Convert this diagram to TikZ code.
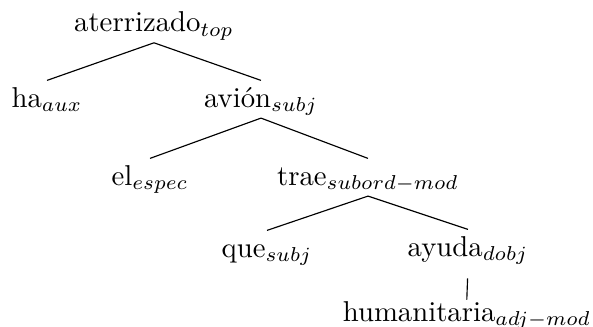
\documentclass[tikz,border=0pt]{standalone}
\usepackage{fontspec}

\begin{document}
\begin{tikzpicture}[
  x=0.348pt, y=-0.348pt,
  word/.style={inner sep=0pt, text height=9.06pt, text depth=3.66pt, anchor=base},
  edge/.style={draw=black, line width=0.4pt}
]
\useasboundingbox (0,0) rectangle (593,326);
\node[word] (aterrizado) at (154,31.7) {aterrizado$_{top}$};
\node[word] (ha) at (47,107) {ha$_{aux}$};
\node[word] (avion) at (261,107) {avión$_{subj}$};
\node[word] (el) at (150,185) {el$_{espec}$};
\node[word] (trae) at (368,185) {trae$_{subord-mod}$};
\node[word] (que) at (267,257) {que$_{subj}$};
\node[word] (ayuda) at (468,256) {ayuda$_{dobj}$};
\node[word] (humanitaria) at (467,321) {humanitaria$_{adj-mod}$};

\draw[edge] (aterrizado.south) -- (ha.north);
\draw[edge] (aterrizado.south) -- (avion.north);
\draw[edge] (avion.south) -- (el.north);
\draw[edge] (avion.south) -- (trae.north);
\draw[edge] (trae.south) -- (que.north);
\draw[edge] (trae.south) -- (ayuda.north);
\draw[edge, shorten <=3.9pt, shorten >=-1.8pt] (ayuda.south) -- (humanitaria.north);
\end{tikzpicture}
\end{document}
